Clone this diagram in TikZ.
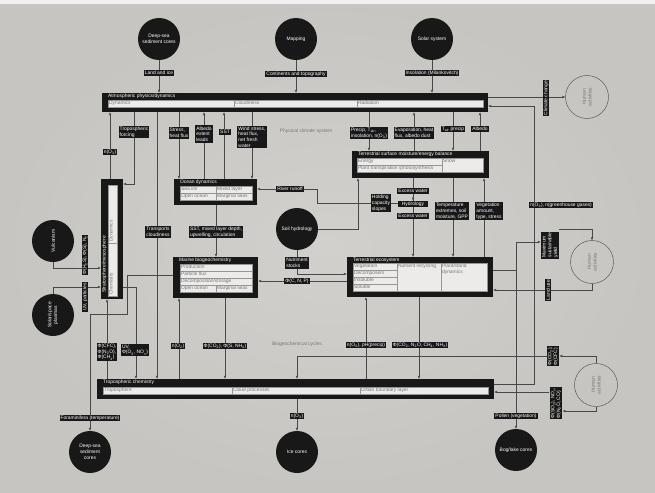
\documentclass[tikz,border=0pt]{standalone}
\usepackage{fontspec}
\setmainfont{Liberation Sans}
\usetikzlibrary{arrows.meta,fit,positioning}
\definecolor{wallGray}{RGB}{199,197,194}
\definecolor{wallLight}{RGB}{210,208,205}
\definecolor{boxBlack}{RGB}{24,24,24}
\definecolor{cellWhite}{RGB}{236,235,233}
\definecolor{cellLine}{RGB}{150,150,150}
\definecolor{cellText}{RGB}{118,118,118}
\definecolor{wireGray}{RGB}{72,72,72}
\newcommand{\ssub}[1]{\textsubscript{#1}}

\begin{document}
\begin{tikzpicture}[x=0.3mm, y=-0.3mm, font=\fontsize{4.2}{4.9}\selectfont,
    wire/.style={draw=wireGray, line width=0.35pt},
    arr/.style={wire, -{Latex[length=2.4pt,width=2.2pt]}},
    tag/.style={fill=boxBlack, text=white, inner sep=0.9pt, align=left},
    vtag/.style={tag, rotate=90},
    src/.style={circle, fill=boxBlack, text=white, minimum size=42*0.3mm, inner sep=0pt, align=center},
    hum/.style={circle, draw=wireGray, line width=0.35pt, minimum size=43*0.3mm, inner sep=0pt, text=cellText, align=center, rotate=90},
    blk/.style={fill=boxBlack, inner sep=0pt},
    ttl/.style={text=white, anchor=north west, inner sep=0.8pt},
    ttlh/.style={ttl, xshift=4.4pt},
    cell/.style={fill=cellWhite, draw=cellLine, line width=0.25pt},
    ctxt/.style={text=cellText, anchor=north west, inner sep=0.7pt, align=left}]
    \shade[inner color=wallLight, outer color=wallGray] (0,0) rectangle (655,492);
    \fill[white!75!wallGray] (0,0) rectangle (655,4);

    \node[blk, fit={(102,93) (488,112)}] (atm) {};
    \node[blk, fit={(101,179) (123,299)}] (strat) {};
    \node[blk, fit={(174,179) (257,205)}] (ocean) {};
    \node[blk, fit={(173,257) (258,298)}] (marine) {};
    \node[blk, fit={(352,151) (489,178)}] (tsurf) {};
    \node[blk, fit={(347,257) (493,297)}] (teco) {};
    \node[blk, fit={(97,379) (494,399)}] (trop) {};
    \node[ttlh] (atmT) at (atm.north west) {Atmospheric physics/dynamics};
    \node[ttlh] (oceanT) at (ocean.north west) {Ocean dynamics};
    \node[ttlh] (marineT) at (marine.north west) {Marine biogeochemistry};
    \node[ttlh] (tsurfT) at (tsurf.north west) {Terrestrial surface moisture/energy balance};
    \node[ttlh] (tecoT) at (teco.north west) {Terrestrial ecosystem};
    \node[ttlh] (tropT) at (trop.north west) {Tropospheric chemistry};
    \node[ttl, rotate=90] (stratT) at (101,294) {Stratosphere/mesosphere};

    \foreach \xa/\ya/\xb/\yb/\txt [count=\k] in {
        108/100/234/107/Dynamics, 234/100/357/107/Cloudiness, 357/100/483/107/Radiation,
        180/186/216/193/Sea ice, 216/186/252/193/Mixed layer, 180/193/216/200/Open ocean, 216/193/252/200/Marginal seas,
        180/264/252/271/Production, 180/271/252/278/Particle flux, 180/278/252/285/{Decomposition/storage},
        180/285/216/292/Open ocean, 216/285/252/292/Marginal seas,
        357/158/442/165/Energy, 357/165/442/172/{Plant transpiration /photosynthesis}, 442/158/483/172/Snow,
        353/263/397/270/Vegetation, 353/270/397/277/Decomposers, 353/277/397/284/Insoluble, 353/284/397/291/Soluble,
        397/263/441/291/Nutrient recycling, 441/263/487/291/{Plant/stand\\dynamics},
        103/387/232/394/Troposphere, 232/387/360/394/Cloud processes, 360/387/488/394/Urban boundary layer} {
        \draw[cell] (\xa,\ya) rectangle (\xb,\yb);
        \node[ctxt] (cell\k) at (\xa,\ya) {\txt};
    }
    \draw[cell] (108,185) rectangle (117,243);
    \draw[cell] (108,243) rectangle (117,296);
    \node[ctxt, rotate=90] (stratD) at (108,243) {Dynamics};
    \node[ctxt, rotate=90] (stratC) at (108,296) {Chemistry};

    \node[src] (dsTop) at (159,39) {Deep-sea\\sediment cores};
    \node[src] (mapping) at (296,39) {Mapping};
    \node[src] (solar) at (432,39) {Solar system};
    \node[src, rotate=90] (vulc) at (53,241) {Vulcanism};
    \node[src, rotate=90] (plasma) at (53,315) {Solar/space\\plasmas};
    \node[src] (soil) at (297,229) {Soil hydrology};
    \node[src] (dsBot) at (90,452) {Deep-sea\\sediment\\cores};
    \node[src] (ice) at (297,452) {Ice cores};
    \node[src] (bog) at (516,450) {Bog/lake cores};
    \node[hum] (humA) at (587,97) {Human\\activities};
    \node[hum] (humB) at (592,262) {Human\\activities};
    \node[hum] (humC) at (596,385) {Human\\activities};

    \draw[arr] (dsTop) -- (dsTop |- atm.north);
    \draw[arr] (mapping) -- (mapping |- atm.north);
    \draw[arr] (solar) -- (solar |- atm.north);
    \draw[arr] (atm.east |- humA) -- (humA);
    \draw[arr] (trop.east |- 0,384) -| (534,106) -- (atm.east |- 0,106);
    \draw[arr] (110,0 |- strat.north) -- (110,0 |- atm.south);
    \draw[arr] (134,0 |- atm.south) |- (strat.east |- 0,184);
    \draw[arr] (157,0 |- atm.south) -- (157,0 |- trop.north);
    \draw[arr] (179,0 |- atm.south) -- (179,0 |- ocean.north);
    \draw[arr] (204,0 |- ocean.north) -- (204,0 |- atm.south);
    \draw[arr] (224,0 |- ocean.north) -- (224,0 |- atm.south);
    \draw[arr] (252,0 |- atm.south) -- (252,0 |- ocean.north);
    \draw[arr] (369,0 |- atm.south) -- (369,0 |- tsurf.north);
    \draw[arr] (414,0 |- tsurf.north) -- (414,0 |- atm.south);
    \draw[arr] (453,0 |- atm.south) -- (453,0 |- tsurf.north);
    \draw[arr] (480,0 |- tsurf.north) -- (480,0 |- atm.south);
    \draw[arr] (vulc) |- (strat.west |- 0,268);
    \draw[arr] (plasma) |- (strat.west |- 0,287);
    \draw[arr] (107,0 |- trop.north) -- (107,0 |- strat.south);
    \draw[arr] (strat.east |- 0,287) -| (136,0 |- trop.north);
    \draw[arr] (marine.west |- 0,275) -| (127,314) -| (dsBot);
    \draw[arr] (216,0 |- ocean.south) -- (216,0 |- marine.north);
    \draw[arr] (413,203) -- (317,203) |- (ocean.east |- 0,189);
    \draw[arr] (soil) -| (358,0 |- tsurf.south);
    \draw[arr] (soil) |- (teco.west |- 0,274);
    \draw[arr] (teco.west |- 0,281) -- (marine.east |- 0,281);
    \draw[arr] (413,0 |- tsurf.south) -- (413,0 |- teco.north);
    \draw[arr] (453,0 |- tsurf.south) -- (453,0 |- teco.north);
    \draw[arr] (484,0 |- teco.north) -- (484,0 |- tsurf.south);
    \draw[arr] (179,0 |- trop.north) -- (179,0 |- marine.south);
    \draw[arr] (225,0 |- marine.south) -- (225,0 |- trop.north);
    \draw[arr] (366,0 |- trop.north) -- (366,0 |- teco.south);
    \draw[arr] (419,0 |- teco.south) -- (419,0 |- trop.north);
    \draw[arr] (297,0 |- trop.south) -- (ice);
    \draw[wire] (teco.east |- 0,270) -- (516,270);
    \draw[arr] (516,270) -- (bog);
    \draw[arr] (humB) |- (teco.east |- 0,290);

    \node[tag] (tLand) at (159,73) {Land and ice};
    \node[tag] (tCont) at (296,74) {Continents and topography};
    \node[tag] (tIns) at (432,73) {Insolation (Milankovitch)};
    \node[vtag] (tClim) at (546,98) {Climate change};
    \node[tag, anchor=west] (tGhg) at (529,205) {n(O\ssub{3}), n(greenhouse gases)};
    \node[tag] (tO3a) at (110,152) {n(O\ssub{3})};
    \node[tag] (tTropF) at (134,132) {Tropospheric\\forcing};
    \node[tag] (tStress) at (179,133) {Stress,\\heat flux};
    \node[tag] (tAlb) at (204,134) {Albedo\\extent\\leads};
    \node[tag] (tSST) at (225,132) {SST};
    \node[tag] (tWind) at (252,137) {Wind stress,\\heat flux,\\net fresh\\water};
    \node[tag] (tPrecip) at (369,133) {Precip, T\ssub{air},\\insolation, n(O\ssub{3})};
    \node[tag] (tEvap) at (414,133) {Evaporation, heat\\flux, albedo dust};
    \node[tag] (tTair) at (453,129) {T\ssub{air} precip};
    \node[tag] (tAlb2) at (480,129) {Albedo};
    \node[tag] (tTrans) at (158,232) {Transports\\cloudiness};
    \node[vtag] (tVulc) at (85,255) {Φ(H\ssub{2}S), Φ(S), N\ssub{2}};
    \node[vtag] (tUV) at (85,297) {UV, particles};
    \node[tag] (tRiver) at (290,189) {River runoff};
    \node[tag] (tSST2) at (216,232) {SST, mixed layer depth,\\upwelling, circulation};
    \node[tag] (tNutr) at (297,263) {Nutriment\\stocks};
    \node[tag] (tCNP) at (297,281) {Φ(C, N, P)};
    \node[tag] (tHold) at (381,203) {Holding\\capacity\\slopes};
    \node[tag] (tEx1) at (413,191) {Excess water};
    \node[tag, minimum width=30*0.3mm] (tHydro) at (413,204) {Hydrology};
    \node[tag] (tEx2) at (413,216) {Excess water};
    \node[tag] (tTemp) at (452,211) {Temperature\\extremes, soil\\moisture, GPP};
    \node[tag] (tVeg) at (489,211) {Vegetation\\amount,\\type, stress};
    \node[tag] (tCFC) at (107,352) {Φ(CFC),\\Φ(N\ssub{2}O),\\Φ(CH\ssub{4})};
    \node[tag] (tUV2) at (135,350) {UV,\\Φ(O\ssub{3}, NO\ssub{x})};
    \node[tag] (tO2) at (178,346) {n(O\ssub{2})};
    \node[tag] (tCO2) at (225,346) {Φ(CO\ssub{2}), Φ(S, NH\ssub{4})};
    \node[tag] (tPH) at (366,345) {n(O\ssub{3}), pH(precip)};
    \node[tag] (tCO2b) at (420,345) {Φ(CO\ssub{2}, N\ssub{2}O, CH\ssub{4}, NH\ssub{3})};
    \node[vtag] (tCFC2) at (553,356) {Φ(CO\ssub{2}),\\Φ(CFC)};
    \node[vtag] (tSO2) at (556,403) {Φ(SO\ssub{2}), NO\ssub{x},\\Φ(N\ssub{2}O, CO)};
    \node[tag] (tForam) at (90,418) {Foraminifera (temperature)};
    \node[tag] (tO3b) at (297,416) {n(O\ssub{3})};
    \node[tag] (tPollen) at (516,416) {Pollen (vegetation)};
    \node[vtag] (tMSY) at (550,245) {Maximum\\sustainable\\yield};
    \node[vtag] (tLU) at (548,290) {Land use};
    \node[text=cellText] (zPhys) at (306,131) {Physical climate system};
    \node[text=cellText] (zBio) at (297,344) {Biogeochemical cycles};

    \draw[arr] (tEx1.south) -- (tHydro.north);
    \draw[arr] (516,270) |- (tMSY.north |- 0,242);
    \draw[arr] (tMSY.south |- 0,229) -| (humB);
    \draw[arr] (humC) |- (tCFC2.south);
    \draw[arr] (tCFC2.north) -| (297,0 |- trop.north);
    \draw[arr] (humC) |- (tSO2.south |- 0,411);
    \draw[arr] (tSO2.north |- 0,392) -- (trop.east |- 0,392);
\end{tikzpicture}
\end{document}
